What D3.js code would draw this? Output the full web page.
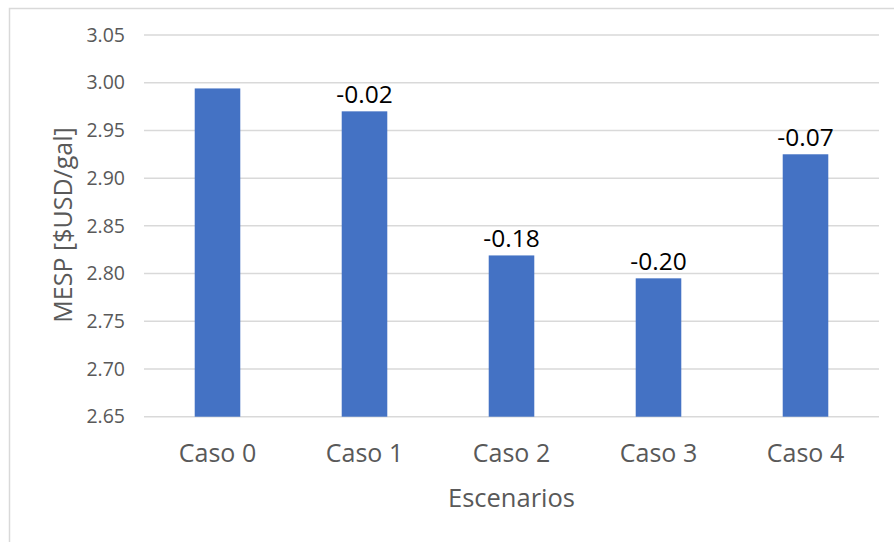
<!DOCTYPE html>
<html>
<head>
<meta charset="utf-8">
<script src="https://cdn.jsdelivr.net/npm/d3@7"></script>
<style>
  html, body { margin: 0; padding: 0; background: #fff; }
  svg { display: block; font-family: "Open Sans", sans-serif; }
</style>
</head>
<body>
<svg id="chart" width="894" height="542"></svg>
<script>
// data
var casos = ['Caso 0', 'Caso 1', 'Caso 2', 'Caso 3', 'Caso 4'];
var mesp = [2.994, 2.970, 2.819, 2.795, 2.925];
var etiquetas = ['', '-0.02', '-0.18', '-0.20', '-0.07'];
var yTicks = [2.65, 2.70, 2.75, 2.80, 2.85, 2.90, 2.95, 3.00, 3.05];

var width = 894, height = 542;
var margin = { top: 35, right: 15, bottom: 125.3, left: 144 };

var svg = d3.select('#chart');

// chart border (top + left only visible)
svg.append('path')
    .attr('d', 'M9.5,' + height + 'V8.5H' + width)
    .attr('fill', 'none')
    .attr('stroke', '#d9d9d9')
    .attr('stroke-width', 1.5);

var x = d3.scaleBand()
    .domain(casos)
    .range([margin.left, width - margin.right])
    .paddingInner(0.69)
    .paddingOuter(0.345);

var y = d3.scaleLinear()
    .domain([2.65, 3.05])
    .range([height - margin.bottom, margin.top]);

// gridlines
svg.append('g')
    .selectAll('line')
    .data(yTicks)
    .join('line')
    .attr('x1', margin.left)
    .attr('x2', width - margin.right)
    .attr('y1', function(d) { return y(d); })
    .attr('y2', function(d) { return y(d); })
    .attr('stroke', '#d9d9d9')
    .attr('stroke-width', 1.5);

// y axis labels
var yAxis = d3.axisLeft(y).tickValues(yTicks).tickFormat(d3.format('.2f')).tickSize(0).tickPadding(19);
var gy = svg.append('g')
    .attr('transform', 'translate(' + margin.left + ',0)')
    .call(yAxis);
gy.select('.domain').remove();
gy.selectAll('text')
    .attr('fill', '#595959')
    .style('font-size', '19.5px')
    .style('font-family', '"Open Sans", sans-serif');

// bars
svg.append('g')
    .selectAll('rect')
    .data(mesp)
    .join('rect')
    .attr('x', function(d, i) { return x(casos[i]); })
    .attr('y', function(d) { return y(d); })
    .attr('width', x.bandwidth())
    .attr('height', function(d) { return y(2.65) - y(d); })
    .attr('fill', '#4472c4');

// data labels
svg.append('g')
    .selectAll('text')
    .data(etiquetas)
    .join('text')
    .attr('x', function(d, i) { return x(casos[i]) + x.bandwidth() / 2; })
    .attr('y', function(d, i) { return y(mesp[i]) - 8; })
    .attr('text-anchor', 'middle')
    .attr('fill', '#000')
    .style('font-size', '24.5px')
    .text(function(d) { return d; });

// x axis labels
var xAxis = d3.axisBottom(x).tickSize(0).tickPadding(28);
var gx = svg.append('g')
    .attr('transform', 'translate(0,' + y(2.65) + ')')
    .call(xAxis);
gx.select('.domain').remove();
gx.selectAll('text')
    .attr('fill', '#595959')
    .style('font-size', '25px')
    .style('font-family', '"Open Sans", sans-serif');

// axis titles
svg.append('text')
    .attr('x', x.range()[0] + (x.range()[1] - x.range()[0]) / 2)
    .attr('y', 507)
    .attr('text-anchor', 'middle')
    .attr('fill', '#595959')
    .style('font-size', '25.5px')
    .text('Escenarios');

svg.append('text')
    .attr('transform', 'translate(72,225) rotate(-90)')
    .attr('text-anchor', 'middle')
    .attr('fill', '#595959')
    .style('font-size', '25px')
    .text('MESP [$USD/gal]');
</script>
</body>
</html>
